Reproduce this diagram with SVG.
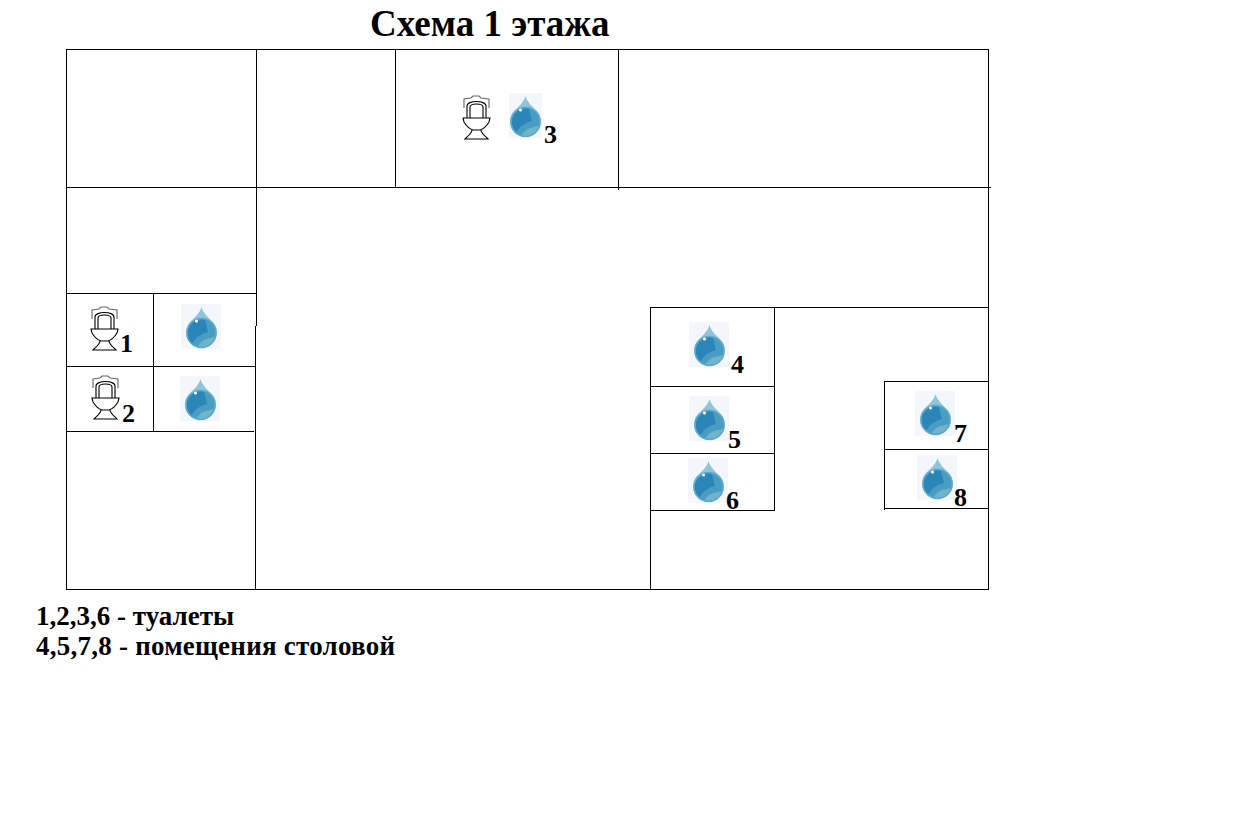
<svg xmlns="http://www.w3.org/2000/svg" width="1242" height="836" viewBox="0 0 1242 836">
<style>
text{font-family:"Liberation Serif","Times New Roman",serif;font-weight:bold;fill:#000}
.n{font-size:26px}
.l{font-size:27px}
.w{stroke:#000;stroke-width:1;fill:none;shape-rendering:crispEdges}
.t{stroke:#000;stroke-width:1.100;fill:none}
</style>
<defs>
<clipPath id="dc"><circle cx="20.500" cy="29" r="14"/></clipPath>
<g id="dropshape">
<path d="M20.500 3C22 9 27 13 32 18A15.500 15.500 0 1 1 9 18C14 13 19 9 20.500 3Z" fill="#8fc4db"/>
<circle cx="20.500" cy="29" r="14" fill="#2a86b8"/>
<g clip-path="url(#dc)">
<path d="M10 44C12 34 20 30 27 28L24 16L36 18V44Z" fill="#4a9dc2"/>
<path d="M16 44C18 37 26 34 36 33V44Z" fill="#6fb4cd"/>
</g>
<circle cx="20.500" cy="29" r="14.500" fill="none" stroke="#5ea8c8" stroke-width="1.500"/>
<circle cx="15.500" cy="17" r="1.500" fill="#fff"/>
</g>
<g id="drop">
<rect width="40" height="45" fill="#f3f7fb"/>
<use href="#dropshape"/>
</g>
<g id="toilet" class="t">
<path d="M1 13V4L8 3L10 1H16L18 3L26 4V13" stroke="#666"/>
<path d="M4 23V11C4 5 23 5 23 11V23"/>
<path d="M7 23V12C7 8 20 8 20 12V23"/>
<path d="M0 23H27L26 27C23 32 20 34 17 35H10C7 34 4 32 1 27Z"/>
<path d="M9 35C9 38 5 41 2 44H25C22 41 18 38 18 35"/>
</g>
</defs>
<rect width="1242" height="836" fill="#fff"/>
<g id="walls" class="w">
<path d="M66.500 49.500H988.500V589.500H66.500Z"/>
<path d="M256.500 49V326M255.500 326V589M395.500 49V188M618.500 49V190M66 187.500H991"/>
<path d="M66 293.500H257M66 366.500H255M66 431.500H254M153.500 293V431"/>
<path d="M650.500 307V589M650 307.500H989M774.500 307V511M650 386.500H775M650 453.500H775M650 510.500H775"/>
<path d="M884.500 381V510M884 381.500H989M884 449.500H989M884 508.500H989"/>
</g>
<g id="room-1"><use href="#toilet" x="91" y="306"/><use href="#drop" x="181" y="304"/><text class="n" x="120" y="352">1</text></g>
<g id="room-2"><use href="#toilet" x="92" y="375"/><use href="#drop" x="180" y="376"/><text class="n" x="122" y="422">2</text></g>
<g id="room-3"><use href="#toilet" x="463" y="95"/><rect x="509" y="93" width="33" height="45" fill="#f3f7fb"/><use href="#dropshape" x="505" y="93"/><text class="n" x="544" y="143">3</text></g>
<g id="room-4"><use href="#drop" x="689" y="322"/><text class="n" x="731" y="373">4</text></g>
<g id="room-5"><use href="#drop" x="689" y="396"/><text class="n" x="728" y="448">5</text></g>
<g id="room-6"><use href="#drop" x="688" y="458"/><text class="n" x="726" y="509">6</text></g>
<g id="room-7"><use href="#drop" x="915" y="391"/><text class="n" x="954" y="442">7</text></g>
<g id="room-8"><use href="#drop" x="917" y="455"/><text class="n" x="954" y="506">8</text></g>
<text id="title" x="370" y="36" font-size="37">Схема 1 этажа</text>
<g id="legend">
<text class="l" x="36" y="625">1,2,3,6 - туалеты</text>
<text class="l" x="36" y="655" textLength="359">4,5,7,8 - помещения столовой</text>
</g>
</svg>
